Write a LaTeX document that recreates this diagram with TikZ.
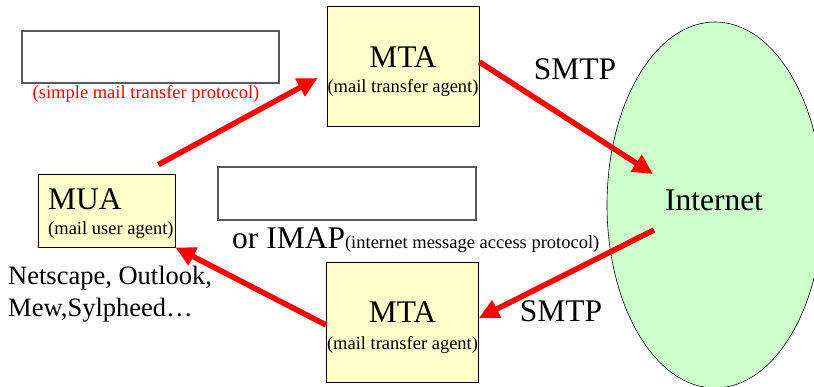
\documentclass[tikz,border=0pt]{standalone}
\usepackage{fontspec}
\setmainfont{Liberation Serif}
\usetikzlibrary{arrows.meta,shapes.geometric}
\definecolor{boxyellow}{HTML}{FFFFCC}
\definecolor{netgreen}{HTML}{CCFFCC}
\begin{document}
\begin{tikzpicture}[x=1pt,y=-1pt,
	agent/.style={draw, line width=0.8pt, fill=boxyellow, inner sep=0pt},
	blank/.style={draw=black!65, line width=1.2pt, inner sep=0pt},
	big/.style={font=\fontsize{31.5}{36}\selectfont, inner sep=0pt, anchor=base},
	note/.style={font=\fontsize{18.5}{22}\selectfont, inner sep=0pt, anchor=base},
	client/.style={font=\fontsize{26.5}{32}\selectfont, inner sep=0pt, anchor=base west},
	arr/.style={red, line width=5.5pt, -{Triangle[length=20pt,width=19pt]}}]
	\useasboundingbox (0,0) rectangle (814,387);
	% boxes
	\node[blank, minimum width=257pt, minimum height=52pt] (SMTPbox) at (150.5,57) {};
	\node[blank, minimum width=258pt, minimum height=53pt] (IMAPbox) at (347,193.5) {};
	\node[agent, minimum width=152pt, minimum height=120pt] (MTAu) at (403,66.5) {};
	\node[agent, minimum width=152pt, minimum height=120pt] (MTAd) at (402.5,322.5) {};
	\node[agent, minimum width=137pt, minimum height=73pt] (MUA) at (106.5,210.5) {};
	\node[draw, line width=0.6pt, fill=netgreen, ellipse, minimum width=216pt, minimum height=366pt, inner sep=0pt] (NET) at (715,205) {};
	% texts
	\node[big] (MTAut) at (403,68) {MTA};
	\node[note] (MTAus) at (403,93) {(mail transfer agent)};
	\node[big] (MTAdt) at (402.5,323) {MTA};
	\node[note] (MTAds) at (402.5,349) {(mail transfer agent)};
	\node[big, anchor=base west] (MUAt) at (48,210) {MUA};
	\node[note, anchor=base west] (MUAs) at (48,235) {(mail user agent)};
	\node[big] (NETt) at (714,211) {Internet};
	\node[big] (SMTPu) at (575,80) {SMTP};
	\node[big] (SMTPd) at (561,322) {SMTP};
	\node[note, red] (SMTPs) at (146,99) {(simple mail transfer protocol)};
	\node[big, anchor=base west] (IMAPt) at (232,249) {or IMAP{\fontsize{18.5}{22}\selectfont(internet message access protocol)}};
	\node[client] (apps1) at (8,285) {Netscape, Outlook,};
	\node[client] (apps2) at (8,317) {Mew,Sylpheed…};
	% arrows
	\draw[arr] ([shift={(-17,-9)}]MUA.north east) -- ([shift={(-9,11.5)}]MTAu.west);
	\draw[arr] ([shift={(0,-4.5)}]MTAu.east) -- ([shift={(-62,-31)}]NET.center);
	\draw[arr] ([shift={(-61,25)}]NET.center) -- ([shift={(0,-4.5)}]MTAd.east);
	\draw[arr] ([shift={(0,2.5)}]MTAd.west) -- (MUA.south east);
\end{tikzpicture}
\end{document}
